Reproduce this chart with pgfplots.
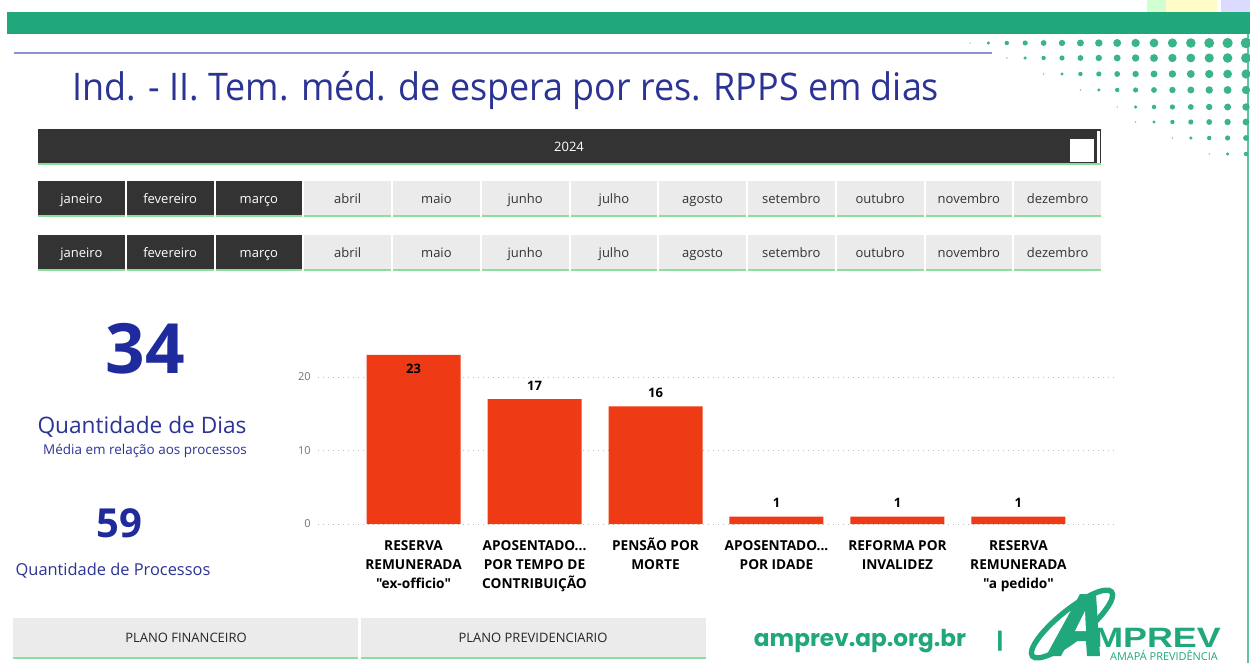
\documentclass[border=0pt]{standalone}
\usepackage{pgfplots}
\pgfplotsset{compat=1.18}
\usepackage{fontspec}
\setmainfont{Open Sans}[Ligatures=TeXOff]
\newfontfamily\titlefont[FakeStretch=0.945]{Open Sans}
\newfontfamily\webfont{Poppins}
\newfontfamily\logofont[FakeStretch=1.28]{Liberation Sans}
\definecolor{amgreen}{HTML}{20A77B}
\definecolor{dotgreen}{HTML}{3AB587}
\definecolor{navy}{HTML}{1F2B9C}
\definecolor{navytxt}{HTML}{2B3494}
\definecolor{slicerdark}{HTML}{333333}
\definecolor{slicerlight}{HTML}{EBEBEB}
\definecolor{slicerline}{HTML}{8ADF9C}
\definecolor{barred}{HTML}{EF3B15}
\definecolor{rulelilac}{HTML}{8C93D2}
\newcommand\tdots{...}
\newcommand\ph{\vphantom{Ã}}

\begin{document}
\begin{tikzpicture}
\path[use as bounding box] (0,0) rectangle (937.5pt,-497.25pt);
\begin{scope}[x=0.75pt,y=-0.75pt]
\fill[white] (0,0) rectangle (1250,663);

% top decoration
\fill[green!18] (1147,0) rectangle (1166,14);
\fill[yellow!22] (1166,0) rectangle (1217,14);
\fill[blue!14] (1221,0) rectangle (1250,14);
\fill[amgreen] (7,12) rectangle (1250,34);
\draw[rulelilac, line width=1.5] (14,53) -- (992,53);
\draw[amgreen!70, line width=1.5] (1248,34) -- (1248,663);

% dot pattern
\foreach \yy/\xs in {43/971,58/1008,74/1045,90/1082,107/1118,122/1137,138/1173,154/1210}{
  \foreach \k in {0,...,15}{
    \pgfmathsetmacro\xx{1246-18.4*\k}
    \pgfmathtruncatemacro\ok{\xx>=\xs-2}
    \ifnum\ok=1
      \pgfmathsetmacro\rr{0.7+4.6*(max(\xx-\xs,0)/275)^0.55}
      \fill[dotgreen] (\xx,\yy) circle[radius=\rr];
    \fi
  }
}

% title
\node[anchor=west, inner sep=0, text=navytxt, font=\titlefont\fontsize{28.5}{30}\selectfont]
  at (72,91) {Ind. - II. Tem. méd. de espera por res. RPPS em dias};

% year slicer
\fill[slicerdark] (38,129) rectangle (1101,163);
\fill[slicerline] (38,163) rectangle (1101,165);
\node[text=white, font=\fontsize{9.75}{11}\selectfont, anchor=base] at (569,152) {2024};
\fill[white] (1070,139) rectangle (1094,162);
\fill[white] (1097,131) rectangle (1100,163);

% month slicers
\foreach \yt in {181,235}{
  \foreach \m [count=\i from 0] in {janeiro,fevereiro,março,abril,maio,junho,julho,agosto,setembro,outubro,novembro,dezembro}{
    \pgfmathsetmacro\xl{38+88.75*\i}
    \pgfmathsetmacro\xr{\xl+86.75}
    \pgfmathsetmacro\xc{\xl+43.4}
    \ifnum\i<3
      \fill[slicerdark] (\xl,\yt) rectangle (\xr,\yt+34);
      \node[text=white, font=\fontsize{9.75}{11}\selectfont, anchor=base] at (\xc,\yt+22.5) {\m};
    \else
      \fill[slicerlight] (\xl,\yt) rectangle (\xr,\yt+34);
      \node[text=slicerdark, font=\fontsize{9.75}{11}\selectfont, anchor=base] at (\xc,\yt+22.5) {\m};
    \fi
    \fill[slicerline] (\xl,\yt+34) rectangle (\xr,\yt+36);
  }
}

% KPI cards
\node[text=navy, font=\bfseries\fontsize{52}{56}\selectfont] at (145,349) {34};
\node[text=navytxt, font=\fontsize{17}{20}\selectfont] at (142,427) {Quantidade de Dias};
\node[text=navytxt, font=\fontsize{10.1}{12}\selectfont] at (145,451) {Média em relação aos processos};
\node[text=navy, font=\bfseries\fontsize{30}{34}\selectfont] at (119,523) {59};
\node[text=navytxt, font=\fontsize{12.3}{15}\selectfont] at (113,571) {Quantidade de Processos};

% footer buttons
\fill[slicerlight] (13,618) rectangle (358,657);
\fill[slicerline] (13,657) rectangle (358,659);
\node[text=black!85, font=\fontsize{9.75}{11}\selectfont, anchor=base] at (186,642) {PLANO FINANCEIRO};
\fill[slicerlight] (361,618) rectangle (706,657);
\fill[slicerline] (361,657) rectangle (706,659);
\node[text=black!85, font=\fontsize{9.75}{11}\selectfont, anchor=base] at (533,642) {PLANO PREVIDENCIARIO};

% website and logo
\node[text=amgreen, font=\webfont\bfseries\fontsize{17.4}{19}\selectfont] at (860,641) {amprev.ap.org.br};
\node[text=amgreen, font=\webfont\bfseries\fontsize{16}{18}\selectfont] at (1000,641) {|};
\draw[amgreen, line width=4] (1072,624) ellipse[x radius=51, y radius=14, rotate=39];
\fill[amgreen] (1046,656) -- (1080,594) -- (1096,594) -- (1100,656) -- (1087,656) -- (1086,641)
  -- (1069,641) -- (1061,656) -- cycle;
\fill[white] (1075,631) -- (1085,611) -- (1086,631) -- cycle;
\node[text=amgreen, font=\logofont\bfseries\fontsize{21}{23}\selectfont, inner sep=0] at (1157,638) {MPREV};
\node[text=amgreen, font=\fontsize{8.2}{9}\selectfont, inner sep=0, anchor=base] at (1164,660) {AMAPÁ PREVIDÊNCIA};

\coordinate (chartSW) at (318,524);
\end{scope}

\begin{axis}[
  at={(chartSW)}, anchor=south west,
  scale only axis, width=597pt, height=132.3pt,
  xmin=-0.79, xmax=5.79, ymin=0, ymax=24,
  ybar, bar width=0.777,
  axis line style={draw=none},
  major tick length=0pt,
  ytick={0,10,20},
  ymajorgrids,
  grid style={color=black!25, line width=0.75pt, dash pattern=on 0.75pt off 3pt},
  /pgf/number format/assume math mode=true,
  yticklabel style={font=\fontsize{8.25}{10}\selectfont, text=black!55, xshift=-2pt},
  xtick={0,1,2,3,4,5},
  xticklabels={{\ph RESERVA\\REMUNERADA\\"ex-officio"},{\ph APOSENTADO\tdots\\POR TEMPO DE\\CONTRIBUIÇÃO},{\ph PENSÃO POR\\MORTE},{\ph APOSENTADO\tdots\\POR IDADE},{\ph REFORMA POR\\INVALIDEZ},{\ph RESERVA\\REMUNERADA\\"a pedido"}},
  xticklabel style={font=\bfseries\fontsize{10.25}{14.25}\selectfont, align=center, anchor=north, yshift=-7pt, text=black},
  nodes near coords,
  every node near coord/.append style={font=\bfseries\fontsize{9.75}{11}\selectfont, text=black, yshift=3pt},
  coordinate style/.condition={y>20}{anchor=north, yshift=-6pt},
]
\addplot[fill=barred, draw=none] coordinates {(0,23) (1,17) (2,16) (3,1) (4,1) (5,1)};
\end{axis}
\end{tikzpicture}
\end{document}
